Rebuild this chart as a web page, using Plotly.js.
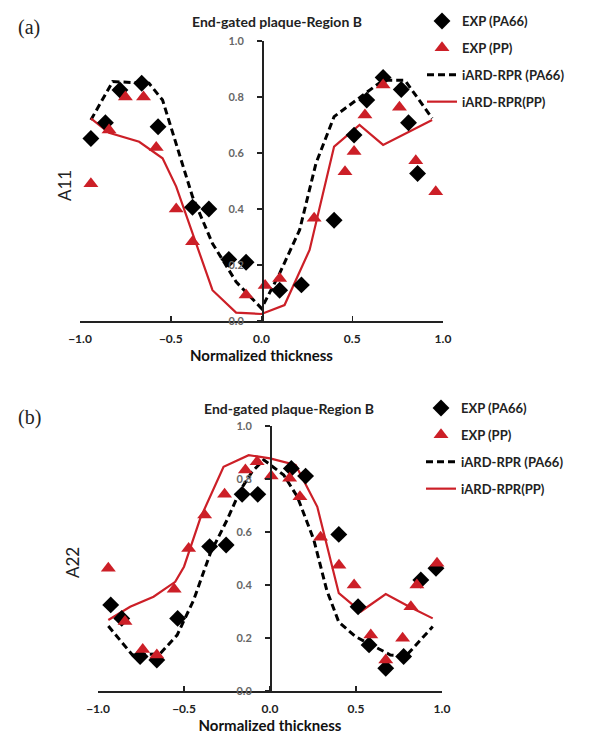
<!DOCTYPE html>
<html>
<head>
<meta charset="utf-8">
<script src="https://cdn.plot.ly/plotly-3.0.1.min.js"></script>
<style>
html,body{margin:0;padding:0;background:#fff;}
#chart{width:592px;height:736px;}
</style>
</head>
<body>
<div id="chart"></div>
<script>
// ---------- Data: (a) A11 ----------
const a_expPA66_x = [-0.94,-0.86,-0.78,-0.66,-0.57,-0.38,-0.29,-0.18,-0.085,0.10,0.22,0.40,0.51,0.58,0.67,0.77,0.81,0.86];
const a_expPA66_y = [0.652,0.708,0.825,0.849,0.694,0.406,0.40,0.22,0.21,0.11,0.129,0.36,0.664,0.789,0.870,0.827,0.708,0.527];
const a_expPP_x = [-0.94,-0.84,-0.75,-0.65,-0.58,-0.47,-0.38,-0.085,0.02,0.10,0.29,0.46,0.51,0.57,0.67,0.76,0.85,0.96];
const a_expPP_y = [0.49,0.682,0.80,0.80,0.62,0.40,0.283,0.093,0.127,0.152,0.367,0.533,0.605,0.736,0.843,0.763,0.572,0.462];
const a_modPA66_x = [-0.94,-0.82,-0.62,-0.545,-0.38,-0.27,-0.14,0.0,0.10,0.21,0.30,0.40,0.56,0.67,0.79,0.94];
const a_modPA66_y = [0.718,0.855,0.849,0.789,0.444,0.277,0.14,0.045,0.17,0.325,0.563,0.73,0.807,0.86,0.86,0.724];
const a_modPP_x = [-0.94,-0.84,-0.674,-0.545,-0.47,-0.38,-0.27,-0.14,0.0,0.127,0.265,0.40,0.54,0.67,0.94];
const a_modPP_y = [0.724,0.672,0.64,0.581,0.48,0.313,0.11,0.03,0.025,0.057,0.254,0.623,0.70,0.629,0.718];

// ---------- Data: (b) A22 ----------
const b_expPA66_x = [-0.926,-0.862,-0.755,-0.658,-0.537,-0.351,-0.255,-0.162,-0.071,0.124,0.207,0.40,0.512,0.576,0.673,0.777,0.877,0.965];
const b_expPA66_y = [0.325,0.274,0.13,0.117,0.274,0.545,0.551,0.742,0.742,0.84,0.811,0.591,0.318,0.174,0.086,0.13,0.419,0.463];
const b_expPP_x = [-0.94,-0.843,-0.74,-0.658,-0.557,-0.473,-0.38,-0.264,-0.143,-0.075,0.007,0.114,0.174,0.294,0.401,0.489,0.586,0.673,0.771,0.819,0.854,0.971];
const b_expPP_y = [0.463,0.262,0.157,0.136,0.384,0.538,0.664,0.742,0.834,0.865,0.811,0.803,0.733,0.58,0.475,0.40,0.211,0.117,0.199,0.318,0.40,0.482];
const b_modPA66_x = [-0.94,-0.80,-0.64,-0.54,-0.444,-0.347,-0.25,-0.172,-0.104,-0.036,0.08,0.159,0.255,0.33,0.40,0.498,0.70,0.79,0.946];
const b_modPA66_y = [0.245,0.136,0.14,0.211,0.343,0.52,0.645,0.758,0.828,0.872,0.815,0.733,0.57,0.38,0.26,0.205,0.136,0.132,0.243];
const b_modPP_x = [-0.94,-0.813,-0.677,-0.551,-0.50,-0.405,-0.27,-0.124,0.0,0.149,0.275,0.40,0.528,0.673,0.81,0.946];
const b_modPP_y = [0.268,0.318,0.356,0.412,0.469,0.652,0.846,0.89,0.878,0.853,0.695,0.369,0.30,0.366,0.318,0.274];

// ---------- Labels ----------
const seriesNames = ["EXP (PA66)", "EXP (PP)", "iARD-RPR (PA66)", "iARD-RPR(PP)"];
const xTickVals = [-1.0, -0.5, 0.0, 0.5, 1.0];
const yTickVals = [0.0, 0.2, 0.4, 0.6, 0.8, 1.0];
const panelTitle = "End-gated plaque-Region B";
const xTitle = "Normalized thickness";

// ---------- Style ----------
const W = 592, H = 736;
const RED = "#cc1f27";
const FONT = "Lato, 'Open Sans', sans-serif";
const px = v => v / W;
const py = v => 1 - v / H;

function traces(xa, ya, leg, d) {
  return [
    {x: d.mPA66x, y: d.mPA66y, xaxis: xa, yaxis: ya, legend: leg, type: "scatter", mode: "lines",
     name: seriesNames[2], legendrank: 3, legendgroup: leg + "c",
     line: {color: "#000", width: 3, dash: "7px,4px"}},
    {x: d.mPPx, y: d.mPPy, xaxis: xa, yaxis: ya, legend: leg, type: "scatter", mode: "lines",
     name: seriesNames[3], legendrank: 4, legendgroup: leg + "d",
     line: {color: RED, width: 2.2}},
    {x: d.ePA66x, y: d.ePA66y, xaxis: xa, yaxis: ya, legend: leg, type: "scatter", mode: "markers",
     name: seriesNames[0], legendrank: 1, legendgroup: leg + "a", cliponaxis: false,
     marker: {symbol: "diamond", size: 13, color: "#000"}},
    {x: d.ePPx, y: d.ePPy, xaxis: xa, yaxis: ya, legend: leg, type: "scatter", mode: "markers",
     name: seriesNames[1], legendrank: 2, legendgroup: leg + "b", cliponaxis: false,
     marker: {symbol: "triangle-up", size: 13, color: RED}}
  ];
}

const data = [].concat(
  traces("x", "y", "legend", {
    ePA66x: a_expPA66_x, ePA66y: a_expPA66_y, ePPx: a_expPP_x, ePPy: a_expPP_y,
    mPA66x: a_modPA66_x, mPA66y: a_modPA66_y, mPPx: a_modPP_x, mPPy: a_modPP_y}),
  traces("x2", "y2", "legend2", {
    ePA66x: b_expPA66_x, ePA66y: b_expPA66_y, ePPx: b_expPP_x, ePPy: b_expPP_y,
    mPA66x: b_modPA66_x, mPA66y: b_modPA66_y, mPPx: b_modPP_x, mPPy: b_modPP_y})
);

function xAxis(domain, anchor) {
  return {
    domain: domain, anchor: anchor, range: [-1.0, 1.0], autorange: false,
    tickvals: xTickVals, tickformat: ".1f", ticks: "inside", ticklen: 5, tickwidth: 1.5,
    tickcolor: "#222", showline: true, linecolor: "#222", linewidth: 1.5,
    showgrid: false, zeroline: false, ticklabelstandoff: 6,
    tickfont: {family: FONT, size: 12, color: "#222", weight: "bold"},
    title: {text: xTitle, standoff: 2, font: {family: FONT, size: 15, color: "#111", weight: "bold"}},
    automargin: false, fixedrange: true
  };
}
function yAxis(domain, pos) {
  return {
    domain: domain, anchor: "free", position: pos, range: [0, 1.0], autorange: false,
    tickvals: yTickVals, tickformat: ".1f", ticks: "outside", ticklen: 5, tickwidth: 1.5,
    tickcolor: "#222", showline: true, linecolor: "#222", linewidth: 1.5,
    showgrid: false, zeroline: false, ticklabelstandoff: 11,
    tickfont: {family: FONT, size: 11, color: "#666", weight: "bold"},
    automargin: false, fixedrange: true
  };
}

const legendBase = {
  xanchor: "left", yanchor: "top", bgcolor: "rgba(0,0,0,0)", borderwidth: 0,
  tracegroupgap: 7, traceorder: "grouped",
  font: {family: FONT, size: 13, color: "#222", weight: "bold"}
};

const layout = {
  width: W, height: H, margin: {l: 0, r: 0, t: 0, b: 0, pad: 0},
  paper_bgcolor: "#fff", plot_bgcolor: "rgba(0,0,0,0)",
  showlegend: true,
  xaxis: xAxis([px(80), px(443)], "y"),
  yaxis: yAxis([py(321), py(41)], px(262)),
  xaxis2: xAxis([px(98), px(442)], "y2"),
  yaxis2: yAxis([py(691), py(426)], px(270)),
  legend: Object.assign({x: px(422), y: py(6)}, legendBase),
  legend2: Object.assign({x: px(421), y: py(393)}, legendBase),
  annotations: [
    {text: "(a)", xref: "paper", yref: "paper", x: px(29), y: py(27), xanchor: "center", yanchor: "middle",
     showarrow: false, font: {family: "'Liberation Serif', 'DejaVu Serif', serif", size: 20, color: "#222"}},
    {text: "(b)", xref: "paper", yref: "paper", x: px(29), y: py(417), xanchor: "center", yanchor: "middle",
     showarrow: false, font: {family: "'Liberation Serif', 'DejaVu Serif', serif", size: 20, color: "#222"}},
    {text: panelTitle, xref: "paper", yref: "paper", x: px(277), y: py(21), xanchor: "center", yanchor: "middle",
     showarrow: false, font: {family: FONT, size: 14, color: "#222", weight: "bold"}},
    {text: panelTitle, xref: "paper", yref: "paper", x: px(289), y: py(408), xanchor: "center", yanchor: "middle",
     showarrow: false, font: {family: FONT, size: 14, color: "#222", weight: "bold"}},
    {text: "A11", xref: "paper", yref: "paper", x: px(64), y: py(186), xanchor: "center", yanchor: "middle",
     textangle: -90, showarrow: false, font: {family: FONT, size: 17, color: "#222"}},
    {text: "A22", xref: "paper", yref: "paper", x: px(72), y: py(563), xanchor: "center", yanchor: "middle",
     textangle: -90, showarrow: false, font: {family: FONT, size: 17, color: "#222"}}
  ]
};

Plotly.newPlot("chart", data, layout, {staticPlot: true, displayModeBar: false});
</script>
</body>
</html>
